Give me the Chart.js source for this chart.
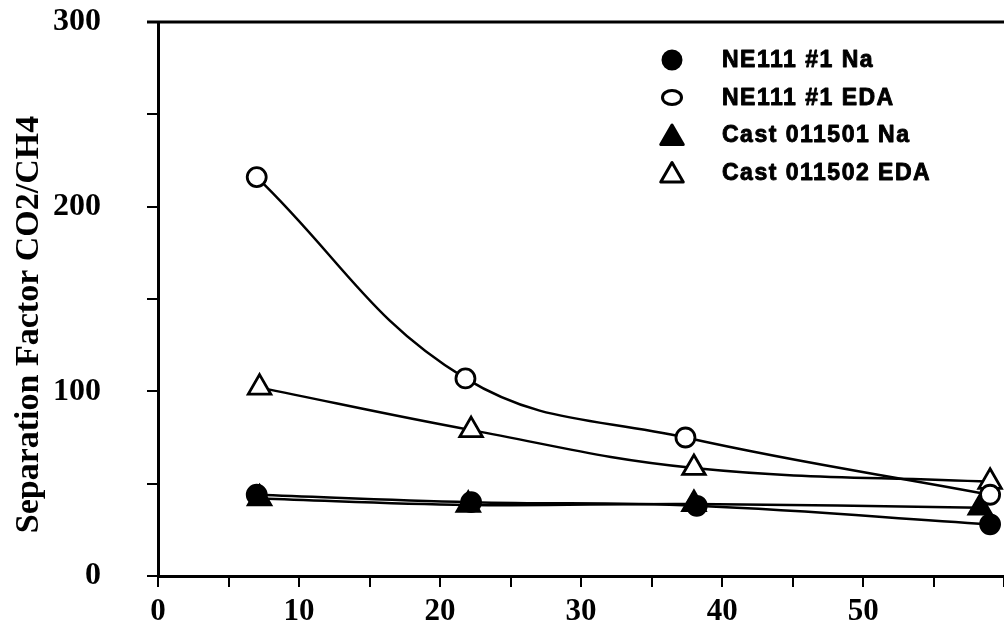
<!DOCTYPE html>
<html>
<head>
<meta charset="utf-8">
<script src="https://cdn.jsdelivr.net/npm/chart.js@4/dist/chart.umd.min.js"></script>
<style>
  html, body { margin: 0; padding: 0; background: #fff; overflow: hidden; }
  #wrap { width: 1004px; height: 630px; overflow: hidden; position: relative; }
  canvas { display: block; }
</style>
</head>
<body>
<div id="wrap"><canvas id="c" width="1020" height="630"></canvas></div>
<script>
// ---- data ----
const seriesNames = ['NE111 #1 Na', 'NE111 #1 EDA', 'Cast 011501 Na', 'Cast 011502 EDA'];
const naCircleX  = [7.0, 22.2, 38.2, 59.0];
const naCircleY  = [44, 40, 38, 28];
const edaCircleX = [7.0, 21.8, 37.4, 59.0];
const edaCircleY = [216, 107, 75, 44];
const naTriX     = [7.2, 22.0, 38.0, 58.3];
const naTriY     = [42, 38.5, 39, 37];
const edaTriX    = [7.2, 22.2, 38.0, 59.0];
const edaTriY    = [102, 79, 58.5, 51];
const xTickLabels = ['0', '10', '20', '30', '40', '50'];
const yTickLabels = ['0', '100', '200', '300'];
const yTitle = 'Separation Factor CO2/CH4      ';

function pts(xs, ys) { return xs.map((x, i) => ({ x: x, y: ys[i] })); }

const black = '#000';
const serif = "'Liberation Serif', 'Times New Roman', serif";
const sans = "'Liberation Sans', Arial, Helvetica, sans-serif";

const styles = [
  { pointStyle: 'circle',   radius: 9.5, fill: black },
  { pointStyle: 'circle',   radius: 9.5, fill: '#fff' },
  { pointStyle: 'triangle', radius: 13,  fill: black },
  { pointStyle: 'triangle', radius: 13,  fill: '#fff' }
];
const seriesData = [
  pts(naCircleX, naCircleY),
  pts(edaCircleX, edaCircleY),
  pts(naTriX, naTriY),
  pts(edaTriX, edaTriY)
];

const datasets = seriesNames.map((name, i) => ({
  label: name,
  data: seriesData[i],
  borderColor: black,
  borderWidth: 2.5,
  tension: 0.4,
  pointStyle: styles[i].pointStyle,
  pointRadius: styles[i].radius,
  pointBackgroundColor: styles[i].fill,
  pointBorderColor: black,
  pointBorderWidth: 2.8,
  fill: false
}));

// top frame line of the plot box, taken from the chart area
const framePlugin = {
  id: 'topFrame',
  afterDraw(chart) {
    const a = chart.chartArea, ctx = chart.ctx;
    ctx.save();
    ctx.strokeStyle = black;
    ctx.lineWidth = 3;
    ctx.beginPath();
    ctx.moveTo(a.left - 11, a.top);
    ctx.lineTo(chart.width, a.top);
    ctx.stroke();
    ctx.restore();
  }
};

// legend drawn at the top-right inside the plot, using the datasets' own styles
const legendPlugin = {
  id: 'insideLegend',
  afterDatasetsDraw(chart) {
    const ctx = chart.ctx;
    const x0 = 672, y0 = 60, dy = 37.5;
    ctx.save();
    chart.data.datasets.forEach((ds, i) => {
      const y = y0 + i * dy;
      ctx.fillStyle = ds.pointBackgroundColor;
      ctx.strokeStyle = black;
      ctx.lineWidth = 3;
      ctx.beginPath();
      if (ds.pointStyle === 'triangle') {
        const r = 13, yy = y + 3;
        ctx.moveTo(x0 - r * Math.sqrt(3) / 2, yy + r / 2);
        ctx.lineTo(x0 + r * Math.sqrt(3) / 2, yy + r / 2);
        ctx.lineTo(x0, yy - r);
        ctx.closePath();
      } else if (ds.pointBackgroundColor === black) {
        ctx.arc(x0, y, 9, 0, Math.PI * 2);
      } else {
        ctx.ellipse(x0, y, 9.5, 7, 0, 0, Math.PI * 2);
      }
      ctx.fill();
      ctx.stroke();
      ctx.fillStyle = black;
      ctx.font = 'bold 23px ' + sans;
      ctx.letterSpacing = '1.5px';
      ctx.textBaseline = 'middle';
      ctx.textAlign = 'left';
      ctx.lineWidth = 0.9;
      ctx.lineJoin = 'round';
      ctx.fillText(ds.label, 722, y + 1);
      ctx.strokeText(ds.label, 722, y + 1);
      ctx.letterSpacing = '0px';
    });
    ctx.restore();
  }
};

new Chart(document.getElementById('c'), {
  type: 'line',
  data: { datasets: datasets },
  plugins: [legendPlugin, framePlugin],
  options: {
    responsive: false,
    animation: false,
    layout: { padding: { top: 22, right: 10, left: 0, bottom: 0 } },
    plugins: { legend: { display: false }, tooltip: { enabled: false } },
    scales: {
      x: {
        type: 'linear',
        position: 'bottom',
        min: 0, max: 60,
        afterFit(s) { s.height = 54; s.paddingLeft = 0; s.paddingRight = 0; },
        border: { display: true, color: black, width: 3 },
        grid: { drawOnChartArea: false, drawTicks: true, tickLength: 11, color: black, lineWidth: 2 },
        ticks: {
          stepSize: 5,
          autoSkip: false,
          maxRotation: 0,
          padding: 6,
          color: black,
          font: { family: serif, size: 31, weight: 'bold' },
          callback: (v) => (v % 10 === 0 && xTickLabels.includes(String(v))) ? String(v) : ''
        }
      },
      y: {
        type: 'linear',
        min: 0, max: 300,
        afterFit(s) { s.width = 158; s.paddingTop = 0; s.paddingBottom = 0; },
        border: { display: true, color: black, width: 3 },
        grid: { drawOnChartArea: false, drawTicks: true, tickLength: 11, color: black, lineWidth: 2 },
        ticks: {
          stepSize: 50,
          autoSkip: false,
          padding: 46,
          color: black,
          font: { family: serif, size: 32, weight: 'bold' },
          callback: (v) => yTickLabels.includes(String(v)) ? String(v) : ''
        },
        title: {
          display: true,
          text: yTitle,
          color: black,
          padding: { top: 9, bottom: 0 },
          font: { family: serif, size: 34, weight: 'bold' }
        }
      }
    }
  }
});
</script>
</body>
</html>
